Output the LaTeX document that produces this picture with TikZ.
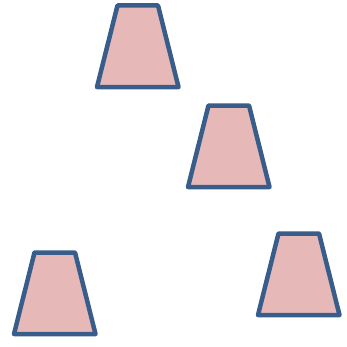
\documentclass[tikz,border=0pt]{standalone}
\definecolor{cupfill}{HTML}{E6B9B8}
\definecolor{cupline}{HTML}{385D8A}

\begin{document}
\begin{tikzpicture}[
      x=1pt, y=1pt,
      cup/.style={draw=cupline, fill=cupfill, line width=4.5pt, line join=round},
    ]
    \useasboundingbox (0, 0) rectangle (347, 346);
    % bottom-left corner of each trapezium
    \coordinate (c1) at (97, 259);
    \coordinate (c2) at (188, 159);
    \coordinate (c3) at (14, 12);
    \coordinate (c4) at (258, 31);
    \foreach \c in {c1, c2, c3, c4}
      \draw[cup] (\c) -- ++(81.5, 0) -- ++(-20.5, 81.5) -- ++(-40.5, 0) -- cycle;
  \end{tikzpicture}
\end{document}
